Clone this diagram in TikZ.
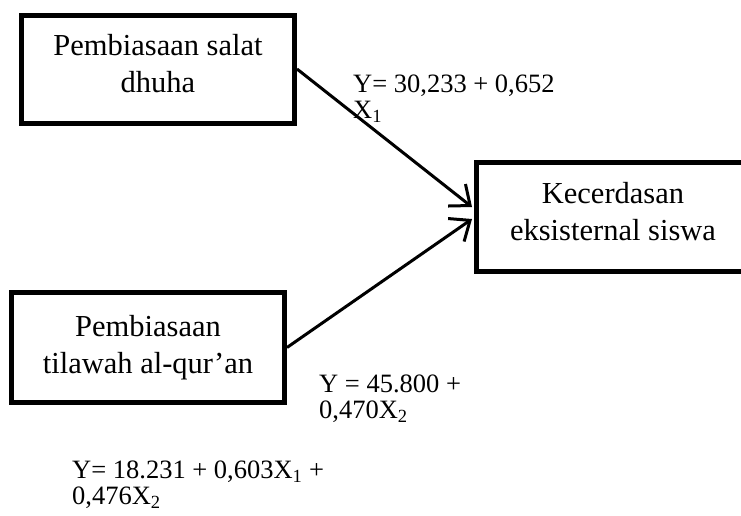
\documentclass[tikz,border=0pt]{standalone}
\usepackage{fontspec}
\setmainfont{Liberation Serif}
\usetikzlibrary{arrows.meta}
\begin{document}
\begin{tikzpicture}[x=1pt,y=-1pt,line join=miter,>={Straight Barb[length=17pt,width=28pt]}]
	\tikzset{var/.style={draw,line width=5pt,minimum width=273pt,minimum height=108pt,inner sep=0pt,align=center,font=\fontsize{30.5pt}{37pt}\selectfont},
		eq/.style={anchor=north west,inner sep=0pt,align=left,font=\fontsize{26.5pt}{26pt}\selectfont},
		path/.style={->,line width=3pt}}
	\useasboundingbox (0,0) rectangle (741,515);
	\clip (0,0) rectangle (741,515);
	\node[var,text depth=12pt] (salat) at (158,69) {Pembiasaan salat\\dhuha};
	\node[var,minimum height=110pt] (tilawah) at (148,347.5) {Pembiasaan\\tilawah al-qur’an};
	\node[var,text depth=12pt,minimum height=109pt] (cerdas) at (613,217) {Kecerdasan\\eksisternal siswa};
	\coordinate (tipA) at (472,207);
	\coordinate (tipB) at (472,219);
	\draw[path] (salat.east) -- (tipA);
	\draw[path] (tilawah.east) -- (tipB);
	\node[eq] (eqA) at (353,75) {Y= 30,233 + 0,652\\X\textsubscript{1}};
	\node[eq] (eqB) at (319,375) {Y = 45.800 +\\0,470X\textsubscript{2}};
	\node[eq] (eqC) at (72,461) {Y= 18.231 + 0,603X\textsubscript{1} +\\0,476X\textsubscript{2}};
\end{tikzpicture}
\end{document}
